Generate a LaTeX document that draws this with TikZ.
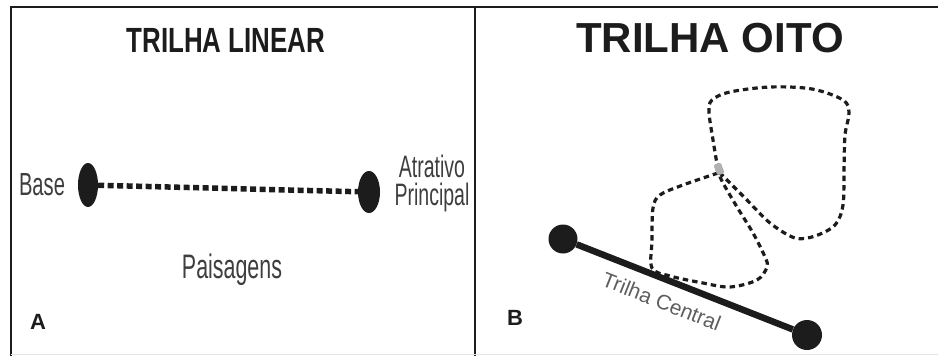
\documentclass[tikz,border=0pt]{standalone}
\usepackage{xcolor}
\usepackage{tikz}
\usepackage{fontspec}
\setmainfont{Liberation Sans}
\newfontfamily\narrowfont[FakeStretch=0.63]{Liberation Sans}
\newfontfamily\titlefont[FakeStretch=0.74]{Liberation Sans}
\usetikzlibrary{arrows.meta, positioning, shapes.geometric}
\definecolor{ink}{HTML}{1C1C1C}
\definecolor{labelgray}{HTML}{3E3E3E}
\definecolor{pathgray}{HTML}{5E5E5E}

\tikzset{
  panelline/.style={ink, line width=2pt},
  stop/.style={ellipse, fill=ink, inner sep=0pt, minimum width=20pt, minimum height=44pt},
  endstop/.style={circle, fill=ink, inner sep=0pt, minimum size=29pt},
  narrowlabel/.style={text=labelgray, font=\narrowfont\fontsize{32}{28}\selectfont, inner sep=0pt},
  panelletter/.style={text=ink, font=\bfseries\fontsize{22}{24}\selectfont, inner sep=0pt},
  trail/.style={ink, line width=3.2pt, dash pattern=on 5.5pt off 4pt}
}

\begin{document}
\begin{tikzpicture}[x=1pt, y=-1pt, >=Stealth]
  \useasboundingbox (0,0) rectangle (938,356);

  % Molduras dos dois quadros
  \draw[panelline] (10,7) -- (938,7);
  \draw[ink, line width=1.5pt] (11,7) -- (11,356);
  \draw[ink, line width=2.5pt] (475,7) -- (475,356);
  \draw[gray!20, line width=1pt] (11,354) -- (938,354);

  % Quadro A - trilha linear
  \node[text=ink, font=\titlefont\bfseries\fontsize{35}{40}\selectfont, inner sep=0pt]
    (tituloLinear) at (226,40) {TRILHA LINEAR};
  \node[stop] (base) at (88,185) {};
  \node[stop, minimum width=22pt, minimum height=42pt] (atrativo) at (369,192) {};
  \draw[ink, line width=5.5pt, dash pattern=on 6pt off 3.5pt] (base) -- (atrativo);
  \node[narrowlabel] (baseTxt) at (42,185) {Base};
  \node[narrowlabel, align=center, font=\narrowfont\fontsize{31}{28}\selectfont]
    (atrativoTxt) at (432,183) {Atrativo\\Principal};
  \node[narrowlabel, font=\narrowfont\fontsize{34}{36}\selectfont]
    (paisagens) at (232,270) {Paisagens};
  \node[panelletter] (letraA) at (38,322) {A};

  % Quadro B - trilha em oito
  \node[text=ink, font=\bfseries\fontsize{42}{46}\selectfont, inner sep=0pt]
    (tituloOito) at (710,38) {TRILHA OITO};

  % Laco de cima
  \draw[trail] plot[smooth, tension=.55] coordinates {
    (718,170) (713,140) (709,112) (712,100) (730,92) (770,87) (812,89)
    (843,100) (849,113) (845,135) (844,170) (843,205) (835,225)
    (815,236) (795,238) (770,223) (747,200) (730,183) (719,172)};
  % Laco de baixo
  \draw[trail] plot[smooth, tension=.55] coordinates {
    (718,173) (683,185) (660,195) (653,208) (652,240) (652,268)
    (670,276) (703,283) (730,287) (757,280) (767,267) (765,257)
    (753,233) (737,207) (723,183) (719,174)};
  \node[fill=gray!60, draw=gray!75, line width=.4pt, rounded corners=1.5pt,
    inner sep=0pt, minimum width=7pt, minimum height=11pt, rotate=20]
    (cruzamento) at (719,169) {};

  % Trilha central com as duas pontas
  \node[endstop] (pontaA) at (563,239) {};
  \node[endstop, minimum size=30pt] (pontaB) at (807,335) {};
  \draw[ink, line width=6.5pt] (pontaA) -- (pontaB)
    node[pos=0.43, sloped, below=11pt, inner sep=0pt, text=pathgray,
      font=\fontsize{21}{23}\selectfont] {Trilha Central};
  \node[panelletter] (letraB) at (515,318) {B};
\end{tikzpicture}
\end{document}
